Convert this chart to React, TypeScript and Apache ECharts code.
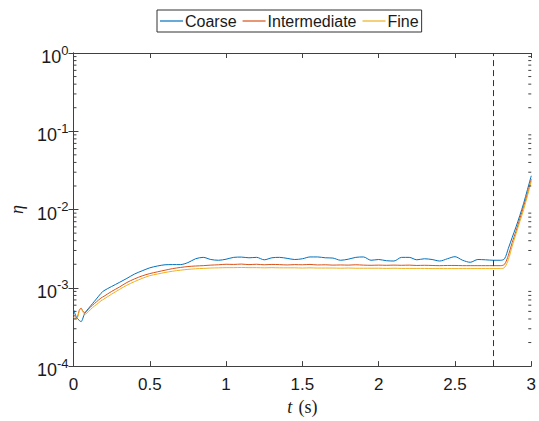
import React, { useEffect, useRef } from "react";
import * as echarts from "echarts";

const T = [
  0, 0.02, 0.04, 0.05, 0.06, 0.075, 0.1, 0.125, 0.15, 0.18, 0.2, 0.25, 0.3, 0.35, 0.4, 0.45, 0.5,
  0.55, 0.6, 0.65, 0.7, 0.75, 0.8, 0.85, 0.9, 0.95, 1.0, 1.05, 1.1, 1.15, 1.2, 1.25, 1.3, 1.35,
  1.4, 1.45, 1.5, 1.55, 1.6, 1.65, 1.7, 1.75, 1.8, 1.85, 1.9, 1.95, 2.0, 2.05, 2.1, 2.15, 2.2,
  2.25, 2.3, 2.35, 2.4, 2.45, 2.5, 2.55, 2.6, 2.65, 2.7, 2.75, 2.8, 2.825, 2.85, 2.875, 2.9,
  2.925, 2.95, 2.975, 3.0,
];

const COARSE = [
  5.3e-4, 4.2e-4, 3.8e-4, 3.7e-4, 4.0e-4, 4.8e-4, 5.5e-4, 6.3e-4, 7.2e-4, 8.5e-4, 9.2e-4, 1.04e-3,
  1.17e-3, 1.32e-3, 1.5e-3, 1.65e-3, 1.8e-3, 1.9e-3, 1.97e-3, 1.98e-3, 1.98e-3, 2.1e-3, 2.35e-3,
  2.45e-3, 2.3e-3, 2.25e-3, 2.32e-3, 2.45e-3, 2.47e-3, 2.42e-3, 2.45e-3, 2.28e-3, 2.42e-3, 2.45e-3,
  2.38e-3, 2.3e-3, 2.35e-3, 2.48e-3, 2.48e-3, 2.42e-3, 2.4e-3, 2.25e-3, 2.32e-3, 2.45e-3, 2.48e-3,
  2.25e-3, 2.3e-3, 2.22e-3, 2.2e-3, 2.45e-3, 2.45e-3, 2.28e-3, 2.35e-3, 2.3e-3, 2.2e-3, 2.35e-3,
  2.5e-3, 2.25e-3, 2.12e-3, 2.3e-3, 2.28e-3, 2.25e-3, 2.25e-3, 2.35e-3, 3.2e-3, 4.4e-3, 6.0e-3,
  8.4e-3, 1.2e-2, 1.8e-2, 2.7e-2,
];

const INTERMEDIATE = [
  4.6e-4, 4.1e-4, 5.3e-4, 5.5e-4, 5.1e-4, 4.8e-4, 5.4e-4, 6.0e-4, 6.6e-4, 7.4e-4, 7.8e-4, 9.0e-4,
  1.02e-3, 1.17e-3, 1.3e-3, 1.42e-3, 1.52e-3, 1.6e-3, 1.68e-3, 1.76e-3, 1.82e-3, 1.87e-3, 1.9e-3,
  1.92e-3, 1.95e-3, 1.97e-3, 2.0e-3, 1.99e-3, 2.01e-3, 1.98e-3, 2.0e-3, 1.97e-3, 1.99e-3, 1.98e-3,
  1.96e-3, 1.98e-3, 1.97e-3, 1.99e-3, 1.96e-3, 1.97e-3, 1.95e-3, 1.96e-3, 1.95e-3, 1.97e-3, 1.95e-3,
  1.94e-3, 1.95e-3, 1.94e-3, 1.95e-3, 1.94e-3, 1.95e-3, 1.93e-3, 1.94e-3, 1.93e-3, 1.92e-3, 1.93e-3,
  1.93e-3, 1.92e-3, 1.92e-3, 1.92e-3, 1.92e-3, 1.92e-3, 1.92e-3, 2.0e-3, 2.6e-3, 3.8e-3, 5.3e-3,
  7.6e-3, 1.1e-2, 1.6e-2, 2.45e-2,
];

const FINE = [
  4.2e-4, 4.0e-4, 5.2e-4, 5.4e-4, 5.0e-4, 4.6e-4, 5.0e-4, 5.6e-4, 6.1e-4, 6.8e-4, 7.2e-4, 8.3e-4,
  9.5e-4, 1.08e-3, 1.2e-3, 1.32e-3, 1.43e-3, 1.5e-3, 1.57e-3, 1.63e-3, 1.68e-3, 1.72e-3, 1.75e-3,
  1.77e-3, 1.79e-3, 1.8e-3, 1.81e-3, 1.81e-3, 1.82e-3, 1.81e-3, 1.81e-3, 1.8e-3, 1.81e-3, 1.8e-3,
  1.8e-3, 1.8e-3, 1.79e-3, 1.8e-3, 1.79e-3, 1.79e-3, 1.79e-3, 1.78e-3, 1.79e-3, 1.78e-3, 1.78e-3,
  1.78e-3, 1.78e-3, 1.77e-3, 1.78e-3, 1.77e-3, 1.77e-3, 1.77e-3, 1.77e-3, 1.76e-3, 1.76e-3, 1.76e-3,
  1.76e-3, 1.76e-3, 1.76e-3, 1.76e-3, 1.76e-3, 1.76e-3, 1.76e-3, 1.82e-3, 2.3e-3, 3.4e-3, 4.9e-3,
  7.0e-3, 1.0e-2, 1.5e-2, 2.3e-2,
];

const SERIES_NAMES = ["Coarse", "Intermediate", "Fine"];
const COLORS = ["#0072BD", "#D95319", "#EDB120"];
const EVENT_T = 2.75;
const X_MIN = 0;
const X_MAX = 3;
const X_STEP = 0.5;
const Y_MIN = 1e-4;
const Y_MAX = 1;
const MINOR_TICKS: number[] = [];
for (let e = -4; e < 0; e++) {
  for (let k = 2; k <= 9; k++) MINOR_TICKS.push(k * Math.pow(10, e));
}

const AX = "#404040";
const TXT = "#1a1a1a";
const SANS = "Liberation Sans, Arial, Helvetica, sans-serif";
const SERIF = "Liberation Serif, Times New Roman, serif";

export default function App() {
  const ref = useRef<HTMLDivElement>(null);
  useEffect(() => {
    if (!ref.current) return;
    const chart = echarts.init(ref.current, undefined, { renderer: "svg" });
    const mk = (vals: number[]) => T.map((t, i) => [t, vals[i]]);
    const allVals = [COARSE, INTERMEDIATE, FINE];
    const lineSeries: any[] = SERIES_NAMES.map((name, i) => ({
      name,
      type: "line",
      data: mk(allVals[i]),
      showSymbol: false,
      symbol: "none",
      smooth: 0.3,
      lineStyle: { color: COLORS[i], width: 1 },
      itemStyle: { color: COLORS[i] },
      z: 3 + i,
      ...(i === 0
        ? {
            markLine: {
              symbol: "none",
              silent: true,
              label: { show: false },
              lineStyle: { type: [6, 4], color: "#333333", width: 1 },
              data: [{ xAxis: EVENT_T }],
            },
          }
        : {}),
    }));
    const minorSeries = {
      type: "custom",
      silent: true,
      clip: false,
      z: 10,
      data: MINOR_TICKS.map((v) => [X_MIN, v]),
      renderItem: (params: any, api: any) => {
        const v = api.value(1);
        const pl = api.coord([X_MIN, v]);
        const pr = api.coord([X_MAX, v]);
        return {
          type: "group",
          children: [
            { type: "line", shape: { x1: pl[0], y1: pl[1], x2: pl[0] + 3, y2: pl[1] }, style: { stroke: AX, lineWidth: 1 } },
            { type: "line", shape: { x1: pr[0] - 3, y1: pr[1], x2: pr[0], y2: pr[1] }, style: { stroke: AX, lineWidth: 1 } },
          ],
        };
      },
    };
    const xCommon = {
      type: "value",
      min: X_MIN,
      max: X_MAX,
      interval: X_STEP,
      splitLine: { show: false },
      axisLine: { show: true, lineStyle: { color: AX, width: 1 } },
      axisTick: { show: true, inside: true, length: 5, lineStyle: { color: AX } },
    };
    const yCommon = {
      type: "log",
      logBase: 10,
      min: Y_MIN,
      max: Y_MAX,
      interval: 1,
      splitLine: { show: false },
      axisLine: { show: true, lineStyle: { color: AX, width: 1 } },
      axisTick: { show: true, inside: true, length: 5, lineStyle: { color: AX } },
    };
    chart.setOption({
      animation: false,
      backgroundColor: "#ffffff",
      grid: { left: 67, right: 5, top: 53, bottom: 50, containLabel: false },
      legend: {
        data: SERIES_NAMES,
        left: 157,
        top: 10,
        orient: "horizontal",
        icon: "rect",
        itemWidth: 23,
        itemHeight: 1.2,
        itemGap: 6,
        padding: [3, 3],
        borderColor: "#333333",
        borderWidth: 1,
        backgroundColor: "#ffffff",
        textStyle: { fontFamily: SANS, fontSize: 16, color: TXT, padding: [0, 0, 0, -3] },
      },
      xAxis: [
        {
          ...xCommon,
          position: "bottom",
          axisLabel: {
            show: true,
            margin: 10,
            fontFamily: SANS,
            fontSize: 17,
            color: TXT,
            formatter: (v: number) => String(v),
          },
          name: "{i|t} {r|(s)}",
          nameLocation: "middle",
          nameGap: 30,
          nameTextStyle: {
            rich: {
              i: { fontFamily: SERIF, fontStyle: "italic", fontSize: 18, color: TXT },
              r: { fontFamily: SERIF, fontSize: 18, color: TXT, padding: [0, 0, 0, 3] },
            },
          },
        },
        { ...xCommon, position: "top", axisLabel: { show: false } },
      ],
      yAxis: [
        {
          ...yCommon,
          position: "left",
          axisLabel: {
            show: true,
            margin: 5,
            formatter: (v: number) => `{b|10}{s|${Math.round(Math.log10(v))}}`,
            rich: {
              b: { fontFamily: SANS, fontSize: 18, color: TXT, padding: [8, 0, 0, 0] },
              s: { fontFamily: SANS, fontSize: 13, color: TXT, padding: [0, 0, 6, 0] },
            },
          },
          name: "η",
          nameLocation: "middle",
          nameGap: 46,
          nameRotate: 90,
          nameTextStyle: { fontFamily: SERIF, fontStyle: "italic", fontSize: 18, color: TXT },
        },
        { ...yCommon, position: "right", axisLabel: { show: false } },
      ],
      series: [...lineSeries, minorSeries],
    });
    return () => chart.dispose();
  }, []);
  return (
    <div
      ref={ref}
      style={{ position: "fixed", left: 0, top: 0, width: 539, height: 421, background: "#fff" }}
    />
  );
}
